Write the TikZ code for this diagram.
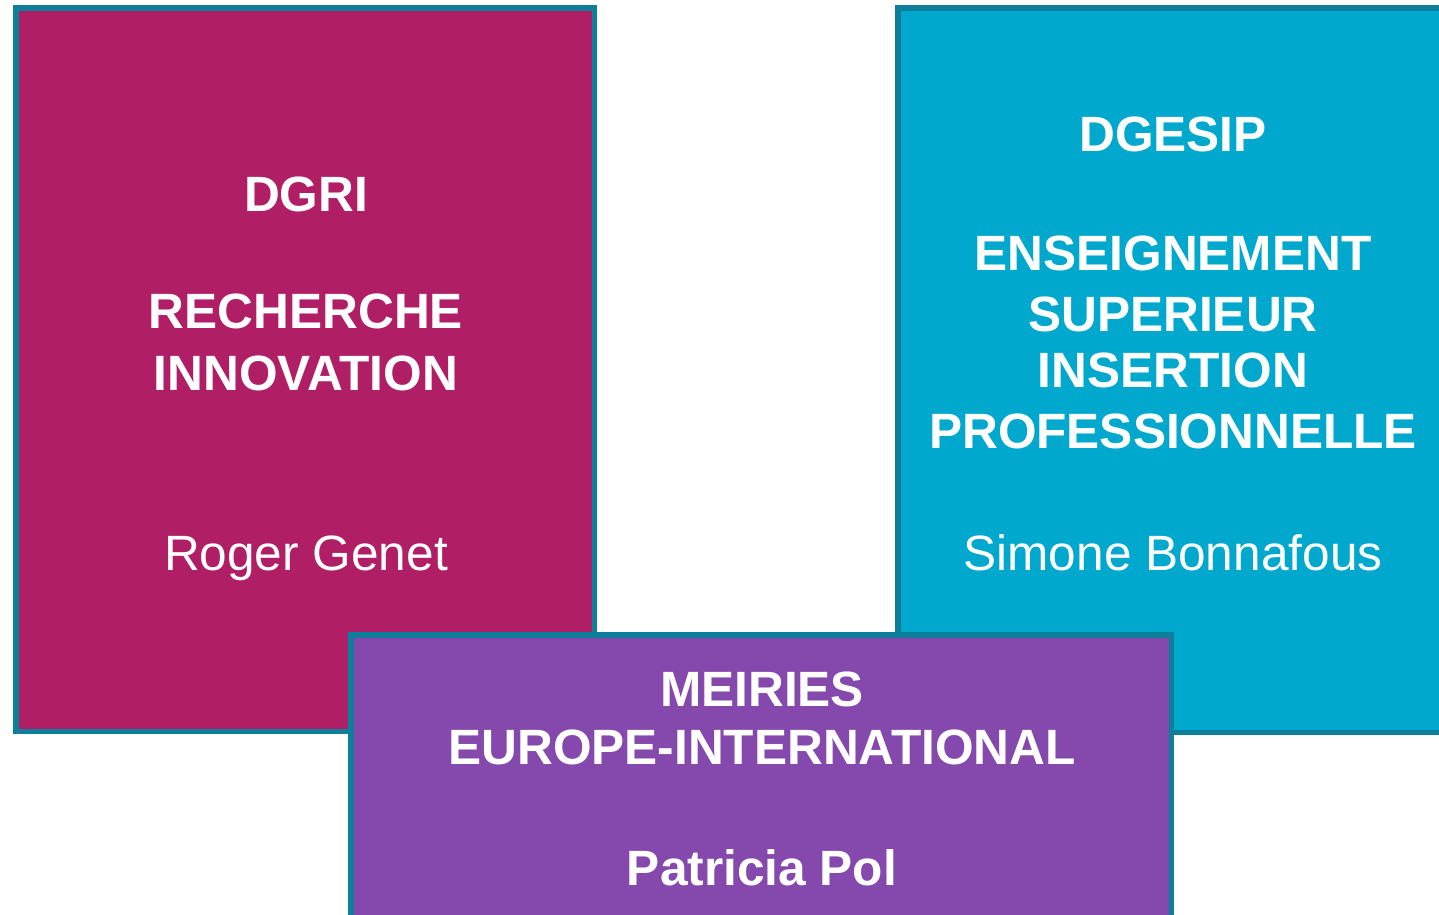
\documentclass[tikz,border=0pt]{standalone}
\usepackage{fontspec}
\setmainfont{Liberation Sans}
\definecolor{magbox}{HTML}{B01E65}
\definecolor{cyanbox}{HTML}{00A8CE}
\definecolor{purplebox}{HTML}{8549AE}
\definecolor{tealedge}{HTML}{0E7F9A}
\begin{document}
\begin{tikzpicture}[x=1pt,y=-1pt,
  panel/.style={draw=tealedge,line width=5.5pt},
  headtxt/.style={text=white,inner sep=0pt,anchor=base,font=\fontsize{49.6}{59}\selectfont\bfseries},
  persontxt/.style={text=white,inner sep=0pt,anchor=base,font=\fontsize{49.6}{59}\selectfont}]
\useasboundingbox (0,0) rectangle (1439,914);
\clip (0,0) rectangle (1439,914);
\filldraw[panel,fill=magbox] (15.75,7.75) rectangle (594.25,731.25);
\filldraw[panel,fill=cyanbox] (897.75,7.75) rectangle (1460,732.25);
\filldraw[panel,fill=purplebox] (350.75,634.75) rectangle (1171.25,940);
% left panel
\node[headtxt] (dgri) at (306,211) {DGRI};
\node[headtxt] (rech) at (306,328) {RECHERCHE};
\node[headtxt] (innov) at (306,390) {INNOVATION};
\node[persontxt] (genet) at (306,570) {Roger Genet};
% right panel
\node[headtxt] (dgesip) at (1173,151) {DGESIP};
\node[headtxt] (ens) at (1173,270) {ENSEIGNEMENT};
\node[headtxt] (sup) at (1173,331) {SUPERIEUR};
\node[headtxt] (ins) at (1173,387) {INSERTION};
\node[headtxt] (prof) at (1173,448) {PROFESSIONNELLE};
\node[persontxt] (bonn) at (1173,570) {Simone Bonnafous};
% bottom panel
\node[headtxt] (meiries) at (762,706) {MEIRIES};
\node[headtxt] (europe) at (762,764) {EUROPE-INTERNATIONAL};
\node[headtxt] (pol) at (762,885) {Patricia Pol};
\end{tikzpicture}
\end{document}
